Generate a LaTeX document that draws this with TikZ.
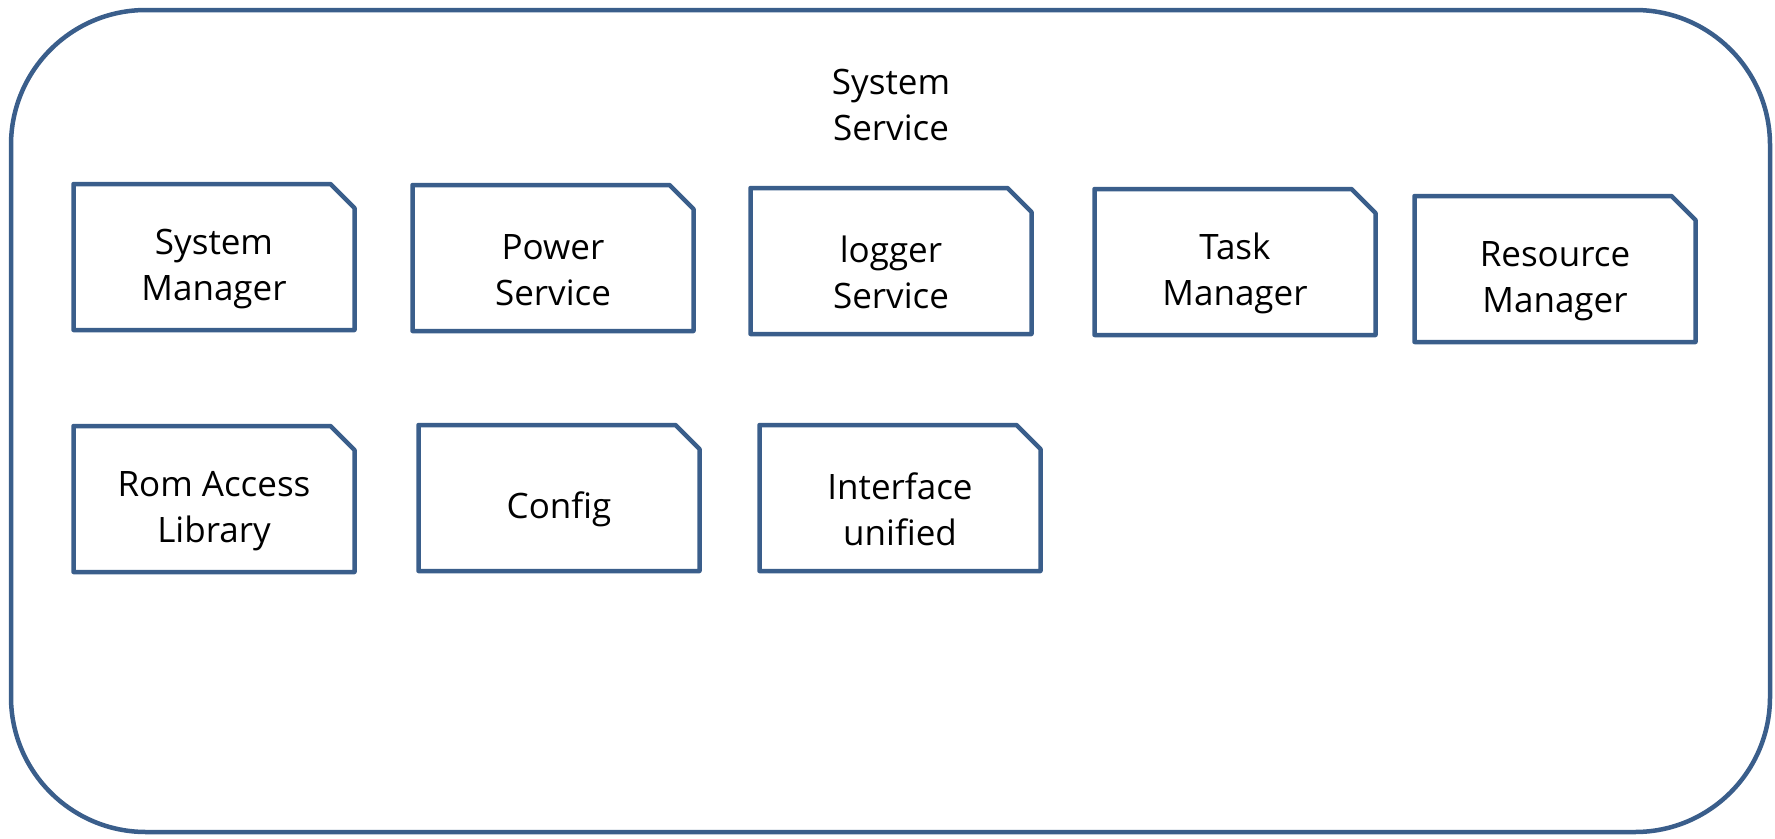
\documentclass[tikz,border=0pt]{standalone}
\usepackage{fontspec}
\setmainfont{Open Sans}
\usepackage{tikz}
\usetikzlibrary{shapes.misc}
\definecolor{boxblue}{RGB}{58,94,139}
\tikzset{comp/.style = {chamfered rectangle, chamfered rectangle corners=north east,
    chamfered rectangle xsep=12pt, chamfered rectangle ysep=12pt,
    draw=boxblue, line width=4.5pt, line join=round, inner sep=0pt,
    minimum width=281pt, minimum height=146pt, align=center, text height=96pt,
    font=\fontsize{35}{46}\selectfont}}

\begin{document}
\begin{tikzpicture}[x=1pt,y=-1pt]
                \useasboundingbox (0,0) rectangle (1775,838);
                \draw[boxblue, line width=4.5pt, rounded corners=135pt] (11,10) rectangle (1770,832);
                \node[align=center, font=\fontsize{35}{46}\selectfont] (title) at (891,105) {System\\Service};

                \node[comp] (sysmgr) at (214,257) {System\\Manager};
                \node[comp] (power) at (553,258) {Power\\Service};
                \node[comp] (logger) at (891,261) {logger\\Service};
                \node[comp] (task) at (1235,262) {Task\\Manager};
                \node[comp] (resmgr) at (1555,269) {Resource\\Manager};

                \node[comp] (rom) at (214,499) {Rom Access\\Library};
                \node[comp, text height=50pt] (config) at (559,498) {Config};
                \node[comp] (iface) at (900,498) {Interface\\unified};
            \end{tikzpicture}
\end{document}
